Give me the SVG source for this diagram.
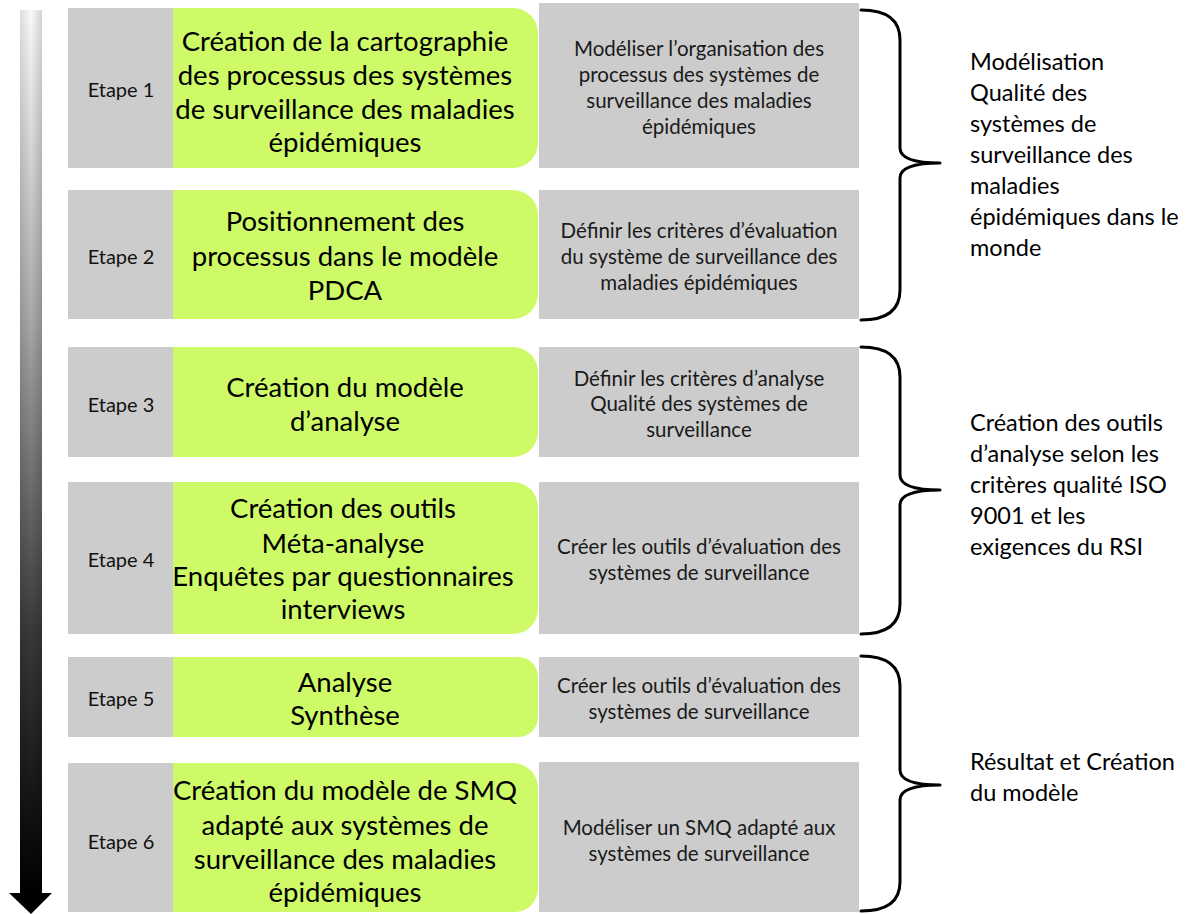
<svg xmlns="http://www.w3.org/2000/svg" width="1191" height="914" viewBox="0 0 1191 914">
<defs>
<linearGradient id="shaft" x1="0" y1="0" x2="0" y2="1">
<stop offset="0" stop-color="#fafafa"/>
<stop offset="0.35" stop-color="#a8a8a8"/>
<stop offset="0.7" stop-color="#3a3a3a"/>
<stop offset="1" stop-color="#000"/>
</linearGradient>
<linearGradient id="shaftShade" x1="0" y1="0" x2="1" y2="0">
<stop offset="0" stop-color="#000" stop-opacity="0.12"/>
<stop offset="0.5" stop-color="#000" stop-opacity="0"/>
<stop offset="1" stop-color="#000" stop-opacity="0.15"/>
</linearGradient>
</defs>
<style>
.step{fill:#cccccc}
.green{fill:#cdfa66}
.desc{fill:#cccccc}
.lab{font-family:Lato,"Liberation Sans",sans-serif;font-size:20px;fill:#111;text-anchor:middle}
.gt{font-family:Lato,"Liberation Sans",sans-serif;font-size:27.5px;fill:#000;text-anchor:middle}
.dt{font-family:Lato,"Liberation Sans",sans-serif;font-size:20.5px;fill:#1a1a1a;text-anchor:middle}
.bt{font-family:Lato,"Liberation Sans",sans-serif;font-size:23.5px;fill:#000}
.brace{fill:none;stroke:#000;stroke-width:3;stroke-linejoin:round;stroke-linecap:round}
</style>
<rect width="1191" height="914" fill="#fff"/>

<g id="timeline">
<rect x="20" y="10" width="22" height="884" fill="url(#shaft)"/>
<rect x="20" y="10" width="22" height="884" fill="url(#shaftShade)"/>
<polygon points="9,893 52,893 31,914" fill="#000"/>
</g>

<g id="step1">
<rect class="step" x="68" y="8" width="106" height="160"/>
<text class="lab" x="121" y="97">Etape 1</text>
<path class="green" d="M173,8 H513 A25,25 0 0 1 538,33 V143 A25,25 0 0 1 513,168 H173 Z"/>
<text class="gt"><tspan x="345" y="51">Création de la cartographie</tspan><tspan x="345" y="85">des processus des systèmes</tspan><tspan x="345" y="119">de surveillance des maladies</tspan><tspan x="345" y="152">épidémiques</tspan></text>
<rect class="desc" x="539" y="3" width="320" height="165"/>
<text class="dt"><tspan x="699" y="56">Modéliser l’organisation des</tspan><tspan x="699" y="82">processus des systèmes de</tspan><tspan x="699" y="108">surveillance des maladies</tspan><tspan x="699" y="134">épidémiques</tspan></text>
</g>

<g id="step2">
<rect class="step" x="68" y="190" width="106" height="129"/>
<text class="lab" x="121" y="264">Etape 2</text>
<path class="green" d="M173,190 H513 A25,25 0 0 1 538,215 V294 A25,25 0 0 1 513,319 H173 Z"/>
<text class="gt"><tspan x="345" y="231">Positionnement des</tspan><tspan x="345" y="266">processus dans le modèle</tspan><tspan x="345" y="300">PDCA</tspan></text>
<rect class="desc" x="539" y="190" width="320" height="129"/>
<text class="dt"><tspan x="699" y="238">Définir les critères d’évaluation</tspan><tspan x="699" y="264">du système de surveillance des</tspan><tspan x="699" y="290">maladies épidémiques</tspan></text>
</g>

<g id="step3">
<rect class="step" x="68" y="347" width="106" height="110"/>
<text class="lab" x="121" y="412">Etape 3</text>
<path class="green" d="M173,347 H513 A25,25 0 0 1 538,372 V432 A25,25 0 0 1 513,457 H173 Z"/>
<text class="gt"><tspan x="345" y="397">Création du modèle</tspan><tspan x="345" y="431">d’analyse</tspan></text>
<rect class="desc" x="539" y="347" width="320" height="110"/>
<text class="dt"><tspan x="699" y="386">Définir les critères d’analyse</tspan><tspan x="699" y="411">Qualité des systèmes de</tspan><tspan x="699" y="437">surveillance</tspan></text>
</g>

<g id="step4">
<rect class="step" x="68" y="482" width="106" height="152"/>
<text class="lab" x="121" y="567">Etape 4</text>
<path class="green" d="M173,482 H513 A25,25 0 0 1 538,507 V609 A25,25 0 0 1 513,634 H173 Z"/>
<text class="gt"><tspan x="343" y="518">Création des outils</tspan><tspan x="343" y="553">Méta-analyse</tspan><tspan x="343" y="586">Enquêtes par questionnaires</tspan><tspan x="343" y="619">interviews</tspan></text>
<rect class="desc" x="539" y="482" width="320" height="152"/>
<text class="dt"><tspan x="699" y="554">Créer les outils d’évaluation des</tspan><tspan x="699" y="580">systèmes de surveillance</tspan></text>
</g>

<g id="step5">
<rect class="step" x="68" y="657" width="106" height="80"/>
<text class="lab" x="121" y="706">Etape 5</text>
<path class="green" d="M173,657 H518 A20,20 0 0 1 538,677 V717 A20,20 0 0 1 518,737 H173 Z"/>
<text class="gt"><tspan x="345" y="692">Analyse</tspan><tspan x="345" y="725">Synthèse</tspan></text>
<rect class="desc" x="539" y="657" width="320" height="80"/>
<text class="dt"><tspan x="699" y="693">Créer les outils d’évaluation des</tspan><tspan x="699" y="719">systèmes de surveillance</tspan></text>
</g>

<g id="step6">
<rect class="step" x="68" y="763" width="106" height="149"/>
<text class="lab" x="121" y="849">Etape 6</text>
<path class="green" d="M173,763 H513 A25,25 0 0 1 538,788 V889 A23,23 0 0 1 515,912 H173 Z"/>
<text class="gt"><tspan x="345" y="800">Création du modèle de SMQ</tspan><tspan x="345" y="835">adapté aux systèmes de</tspan><tspan x="345" y="869">surveillance des maladies</tspan><tspan x="345" y="902">épidémiques</tspan></text>
<rect class="desc" x="539" y="762" width="320" height="150"/>
<text class="dt"><tspan x="699" y="835">Modéliser un SMQ adapté aux</tspan><tspan x="699" y="861">systèmes de surveillance</tspan></text>
</g>

<g id="connectors">
<path class="brace" d="M861,10 Q900,10 900,40 L900,148 Q900,163 940,163 Q900,163 900,178 L900,290 Q900,320 861,320"/>
<path class="brace" d="M861,347 Q900,347 900,377 L900,475 Q900,490 940,490 Q900,490 900,505 L900,604 Q900,634 861,634"/>
<path class="brace" d="M861,656 Q900,656 900,686 L900,770 Q900,785 940,785 Q900,785 900,800 L900,882 Q900,911 861,911"/>
</g>

<g id="label1">
<text class="bt"><tspan x="970" y="70">Modélisation</tspan><tspan x="970" y="101">Qualité des</tspan><tspan x="970" y="132">systèmes de</tspan><tspan x="970" y="163">surveillance des</tspan><tspan x="970" y="194">maladies</tspan><tspan x="970" y="225">épidémiques dans le</tspan><tspan x="970" y="256">monde</tspan></text>
</g>
<g id="label2">
<text class="bt"><tspan x="970" y="431">Création des outils</tspan><tspan x="970" y="462">d’analyse selon les</tspan><tspan x="970" y="493">critères qualité ISO</tspan><tspan x="970" y="524">9001 et les</tspan><tspan x="970" y="555">exigences du RSI</tspan></text>
</g>
<g id="label3">
<text class="bt"><tspan x="970" y="770">Résultat et Création</tspan><tspan x="970" y="801">du modèle</tspan></text>
</g>
</svg>
